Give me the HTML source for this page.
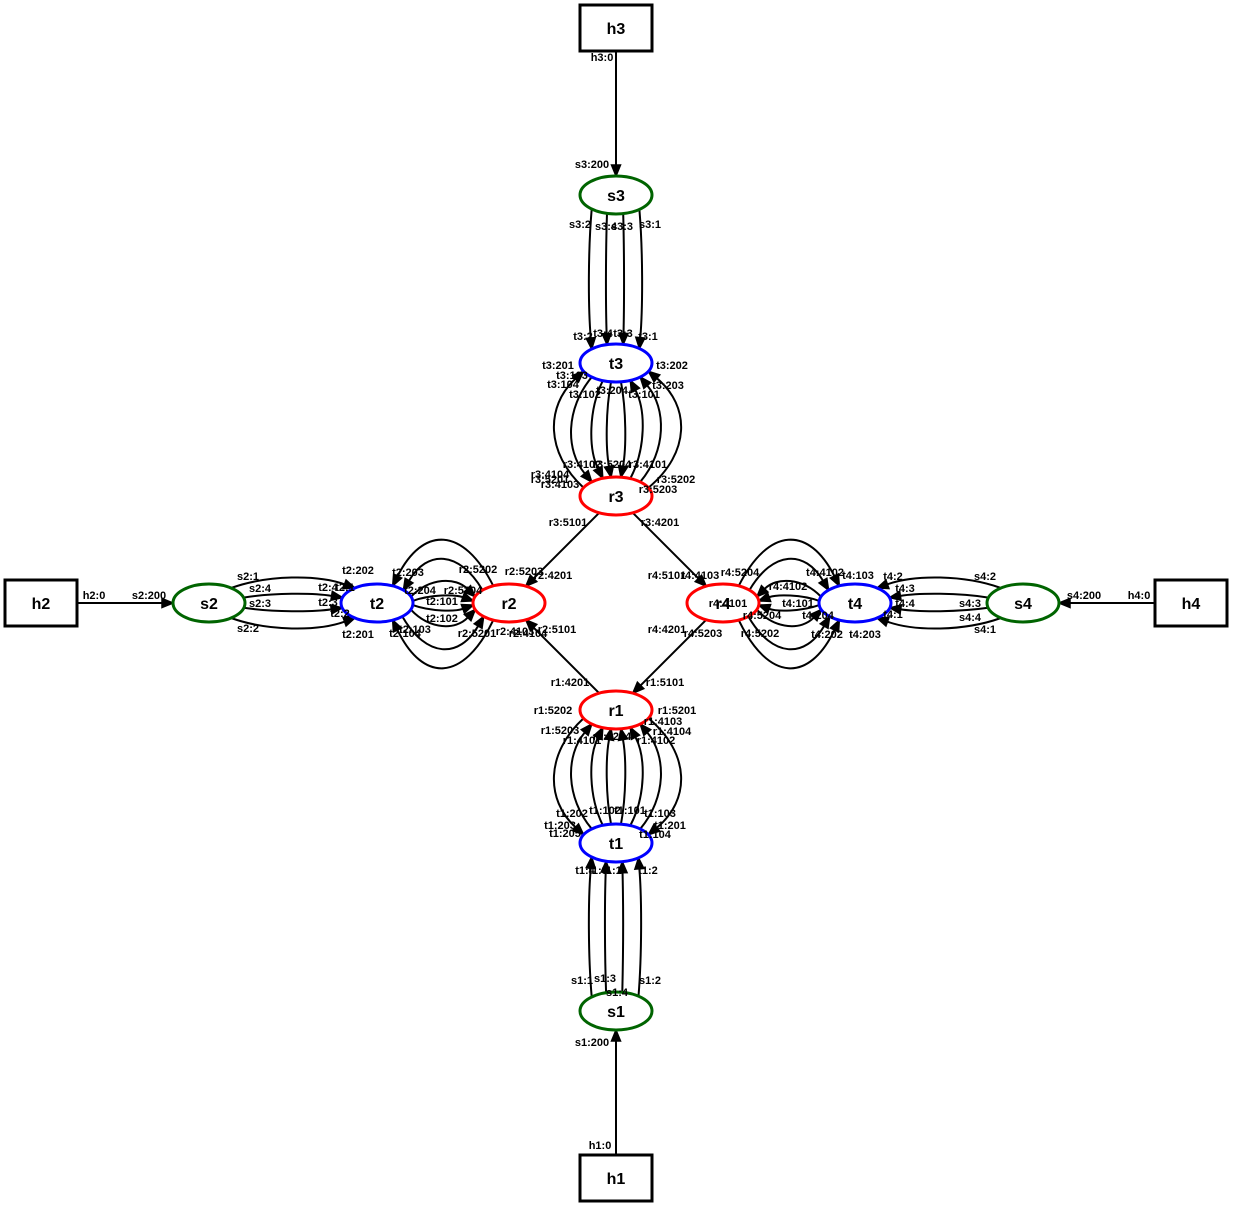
<!DOCTYPE html>
<html><head><meta charset="utf-8"><style>
html,body{margin:0;padding:0;background:#fff;}
svg{display:block;}
.lbl{font-family:"Liberation Sans",sans-serif;font-size:11px;font-weight:bold;fill:#000;text-anchor:middle;}
.nl{font-family:"Liberation Sans",sans-serif;font-size:16px;font-weight:bold;fill:#000;text-anchor:middle;}
</style></head><body>
<svg id="g" width="1233" height="1209" viewBox="0 0 1233 1209" xmlns="http://www.w3.org/2000/svg">
<g id="edges"></g><g id="nodes"></g><g id="labels"></g>
</svg>
<script>
const nodeNames=["h3","s3","t3","r3","r1","t1","s1","h1","h2","s2","t2","r2","r4","t4","s4","h4"];
const nodeX=[616,616,616,616,616,616,616,616,41,209,377,509,723,855,1023,1191];
const nodeY=[28,195,363,496,710,843,1011,1178,603,603,603,603,603,603,603,603];
const nodeKind=["box","sw","tor","rtr","rtr","tor","sw","box","box","sw","tor","rtr","rtr","tor","sw","box"];
const straightEdges=[["h3","s3"],["h1","s1"],["h2","s2"],["h4","s4"],["r3","r2"],["r3","r4"],["r1","r2"],["r4","r1"]];
const bundleA=["s3","t3","s2","t2","t4","r4","s1","r1"];
const bundleB=["t3","r3","t2","r2","s4","t4","t1","t1"];
const bundleMids=[[-27,-10,8,26],[-61,-44,-24,-9,9,26,44,64],[-25,-9,8,25],[-62,-43,-21,-7,7,22,45,64],[-25,-9,8,25],[-62,-43,-21,-7,7,22,45,64],[-27,-11,7,25],[-61,-44,-24,-9,9,26,44,64]];
const bundleEf=[0.9,0.55,0.6,0.3,0.6,0.3,0.9,0.55];
// 1 = arrow at B, 0 = arrow at A
const bundleDirs=[[1,1,1,1],[0,1,1,1,1,0,0,0],[1,1,1,1],[0,0,1,1,1,1,1,0],[0,0,0,0],[1,1,0,0,0,1,1,1],[1,1,1,1],[1,0,0,0,0,0,0,1]];
const colors={sw:"#006400",tor:"#0000ff",rtr:"#ff0000",box:"#000"};
const NS="http://www.w3.org/2000/svg";
const N={};nodeNames.forEach((n,i)=>N[n]={x:nodeX[i],y:nodeY[i],k:nodeKind[i]});
const E=document.getElementById("edges"),ND=document.getElementById("nodes"),LB=document.getElementById("labels");
function mk(t,a,p){const e=document.createElementNS(NS,t);for(const k in a)e.setAttribute(k,a[k]);p.appendChild(e);return e;}
function rad(n){return n.k==="box"?{rx:36,ry:23}:{rx:36,ry:19};}
function bnd(n,dx,dy){const r=rad(n);const L=Math.hypot(dx,dy);const ux=dx/L,uy=dy/L;
 if(n.k==="box"){const t=Math.min(r.rx/Math.abs(ux||1e-9),r.ry/Math.abs(uy||1e-9));return [n.x+ux*t,n.y+uy*t];}
 const t=1/Math.sqrt(ux*ux/(r.rx*r.rx)+uy*uy/(r.ry*r.ry));return [n.x+ux*t,n.y+uy*t];}
function arrow(tip,from,name){const dx=tip[0]-from[0],dy=tip[1]-from[1],L=Math.hypot(dx,dy),ux=dx/L,uy=dy/L;
 const bx=tip[0]-ux*11,by=tip[1]-uy*11;
 const p=mk("polygon",{points:`${tip[0]},${tip[1]} ${bx-uy*4.5},${by+ux*4.5} ${bx+uy*4.5},${by-ux*4.5}`,fill:"#000",stroke:"#000","stroke-width":1.5},E);
 
 
 return [bx,by];}
straightEdges.forEach(([a,b])=>{const A=N[a],B=N[b];
 const p1=bnd(A,B.x-A.x,B.y-A.y),p2=bnd(B,A.x-B.x,A.y-B.y);
 const base=arrow(p2,p1,a+'-'+b);
 const l=mk("line",{x1:p1[0],y1:p1[1],x2:base[0],y2:base[1],stroke:"#000","stroke-width":2},E);
 
 });
bundleA.forEach((a,bi)=>{const A=N[a],B=N[bundleB[bi]];const vert=A.x===B.x;
 bundleMids[bi].forEach((m,i)=>{
  function endp(n,other){const r=rad(n);const rl=vert?r.rx:r.ry,rm=vert?r.ry:r.rx;
   let e=m*bundleEf[bi];e=Math.max(-0.9*rl,Math.min(0.9*rl,e));
   const s=Math.sign((vert?other.y-n.y:other.x-n.x));const mm=s*rm*Math.sqrt(1-(e/rl)*(e/rl));
   return vert?[n.x+e,n.y+mm,e]:[n.x+mm,n.y+e,e];}
  const pa=endp(A,B),pb=endp(B,A);
  const e=pa[2];const c=(m-0.25*e)/0.75;
  let c1,c2;
  if(vert){c1=[A.x+c,pa[1]+(pb[1]-pa[1])*0.3];c2=[B.x+c,pa[1]+(pb[1]-pa[1])*0.7];}
  else{c1=[pa[0]+(pb[0]-pa[0])*0.3,A.y+c];c2=[pa[0]+(pb[0]-pa[0])*0.7,B.y+c];}
  let s=[pa[0],pa[1]],t=[pb[0],pb[1]],k1=c1,k2=c2;
  if(bundleDirs[bi][i]===0){s=[pb[0],pb[1]];t=[pa[0],pa[1]];k1=c2;k2=c1;}
  const base=arrow(t,k2,a+'-'+bundleB[bi]+'-'+i);
  const p=mk("path",{d:`M${s[0]},${s[1]} C${k1[0]},${k1[1]} ${k2[0]},${k2[1]} ${base[0]},${base[1]}`,fill:"none",stroke:"#000","stroke-width":2},E);
  
  
 });});
nodeNames.forEach(n=>{const d=N[n];let s;
 if(d.k==="box")s=mk("rect",{x:d.x-36,y:d.y-23,width:72,height:46,fill:"#fff",stroke:"#000","stroke-width":3},ND);
 else s=mk("ellipse",{cx:d.x,cy:d.y,rx:36,ry:19,fill:"#fff",stroke:colors[d.k],"stroke-width":3},ND);
 
 
 const t=mk("text",{x:d.x,y:d.y+6,class:"nl"},ND);t.textContent=n;
 
 });
const labels=[["h3:0",602,61],["s3:200",592,168],["s3:2",580,228],["s3:4",606,230],["s3:3",622,230],["s3:1",650,228],["t3:2",583,340],["t3:4",603,337],["t3:3",623,337],["t3:1",648,340],["t3:201",558,369],["t3:202",672,369],["t3:103",572,379],["t3:104",563,388],["t3:203",668,389],["t3:102",585,398],["t3:204",612,394],["t3:101",644,398],["r3:4102",582,468],["r3:5204",612,468],["r3:4101",648,468],["r3:4104",550,478],["r3:5201",550,483],["r3:4103",560,488],["r3:5202",676,483],["r3:5203",658,493],["r3:5101",568,526],["r3:4201",660,526],
["h2:0",94,599],["s2:200",149,599],["s2:1",248,580],["s2:4",260,592],["s2:3",260,607],["s2:2",248,632],["t2:202",358,574],["t2:4",328,591],["t2:1",345,591],["t2:3",328,606],["t2:2",340,617],["t2:201",358,638],["t2:203",408,576],["t2:204",420,594],["r2:5204",463,594],["t2:101",442,605],["t2:102",442,622],["t2:103",415,633],["t2:104",405,637],["r2:5202",478,573],["r2:5203",524,575],["r2:4201",553,579],["r2:5201",477,637],["r2:4103",515,635],["r2:4104",528,637],["r2:5101",557,633],["r1:4201",570,686],["r1:5101",665,686],
["r4:5101",667,579],["r4:4103",700,579],["r4:5204",740,576],["t4:4102",825,576],["t4:103",858,579],["r4:4102",788,590],["t4:101",798,607],["r4:4101",728,607],["r4:5204",762,619],["t4:204",818,619],["r4:4201",667,633],["r4:5203",703,637],["r4:5202",760,637],["t4:202",827,638],["t4:203",865,638],["t4:2",893,580],["t4:3",905,592],["t4:4",905,607],["t4:1",893,618],["s4:2",985,580],["s4:3",970,607],["s4:4",970,621],["s4:1",985,633],["s4:200",1084,599],["h4:0",1139,599],
["r1:5202",553,714],["r1:5201",677,714],["r1:4103",663,725],["r1:5203",560,734],["r1:4104",672,735],["r1:4101",582,744],["r1:5204",612,740],["r1:4102",656,744],["t1:102",605,814],["t1:101",630,814],["t1:103",660,817],["t1:202",572,817],["t1:203",560,829],["t1:201",670,829],["t1:205",565,837],["t1:104",655,838],["t1:4",585,874],["t1:3",598,874],["t1:1",612,874],["t1:2",648,874],["s1:1",582,984],["s1:3",605,982],["s1:2",650,984],["s1:4",617,996],["s1:200",592,1046],["h1:0",600,1149]];
labels.forEach(([s,x,y])=>{const t=mk("text",{x:x,y:y,class:"lbl"},LB);t.textContent=s;
 
 });
</script>
</body></html>
